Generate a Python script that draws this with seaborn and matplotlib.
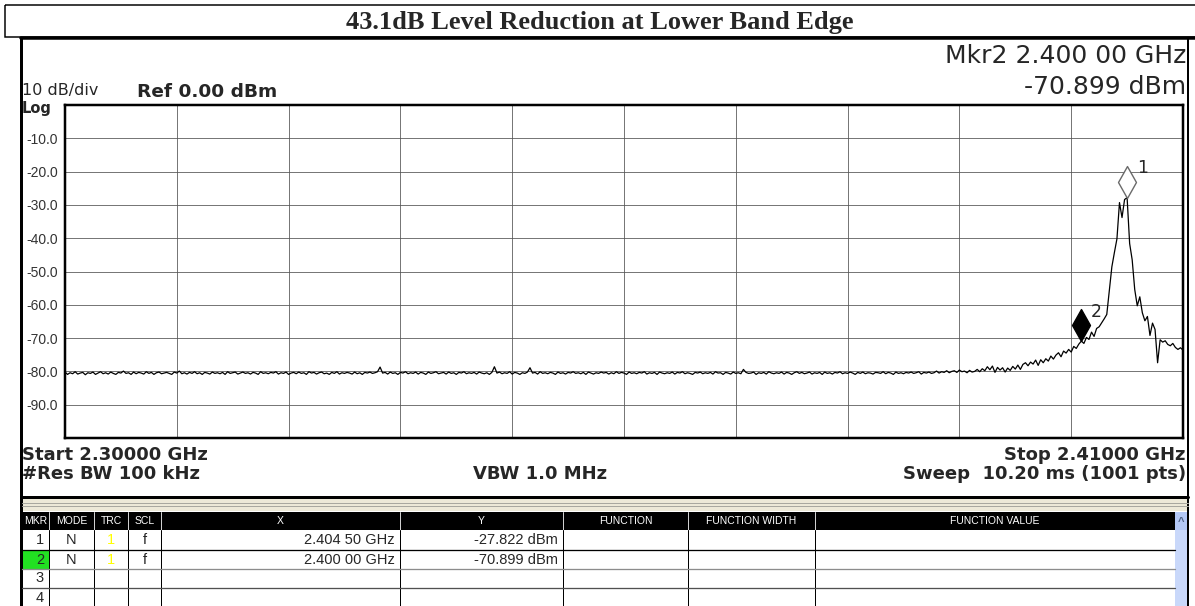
import matplotlib
matplotlib.use("Agg")
import matplotlib.pyplot as plt
import numpy as np
import pandas as pd
import seaborn as sns
from matplotlib.path import Path
from matplotlib.patches import Rectangle

# sweep settings (GHz) - trace every 0.25 MHz
start_ghz = 2.300
stop_ghz = 2.410
step_ghz = 0.00025

# noise floor 2.3000 - 2.38725 GHz
floor_dbm = [
    -80.2, -80.9, -80.4, -80.7, -80.1, -80.8, -80.5, -80.3, -81.0, -80.4,
    -80.6, -80.2, -80.9, -80.5, -80.1, -80.7, -80.4, -80.8, -80.2, -80.6,
    -80.9, -80.3, -80.5, -79.9, -80.6, -80.4, -80.9, -80.2, -80.7, -80.3,
    -80.5, -80.8, -80.1, -80.6, -80.3, -80.9, -80.4, -80.2, -80.7, -80.5,
    -80.3, -80.6, -80.9, -80.2, -80.5, -79.9, -80.7, -80.4, -80.8, -80.3,
    -80.6, -80.1, -80.7, -80.4, -80.9, -80.3, -80.5, -80.8, -80.2, -80.6,
    -80.4, -80.7, -80.3, -80.9, -80.1, -80.6, -80.4, -80.2, -80.8, -80.5,
    -80.2, -80.6, -80.4, -80.8, -80.3, -80.5, -80.9, -80.1, -80.6, -80.4,
    -80.7, -80.3, -80.5, -80.1, -80.8, -80.4, -80.6, -80.2, -80.9, -80.5,
    -80.3, -80.7, -80.2, -80.6, -80.4, -80.9, -80.1, -80.5, -80.3, -80.8,
    -80.4, -80.2, -80.7, -80.5, -80.9, -80.3, -80.6, -80.1, -80.8, -80.4,
    -80.6, -80.3, -80.5, -80.8, -80.2, -80.7, -80.4, -80.9, -80.3, -80.5,
    -80.2, -80.6, -80.4, -80.1, -78.7, -80.5, -80.3, -80.8, -80.2, -80.6,
    -80.4, -80.9, -80.3, -80.5, -80.1, -80.7, -80.4, -80.6, -80.2, -80.8,
    -80.3, -80.5, -80.9, -80.2, -80.6, -80.4, -80.1, -80.7, -80.5, -80.3,
    -80.8, -80.2, -80.6, -80.4, -80.9, -80.3, -80.5, -80.1, -80.7, -80.4,
    -80.6, -80.3, -80.8, -80.2, -80.5, -80.7, -80.4, -80.9, -80.3, -78.6,
    -80.5, -80.2, -80.7, -80.4, -80.6, -80.1, -80.8, -80.3, -80.5, -80.9,
    -80.4, -80.6, -80.2, -78.9, -80.5, -80.3, -80.8, -80.1, -80.6, -80.4,
    -80.7, -80.3, -80.5, -80.9, -80.2, -80.6, -80.4, -80.8, -80.3, -80.5,
    -80.1, -80.6, -80.4, -80.7, -80.3, -80.9, -80.2, -80.5, -80.8, -80.4,
    -80.6, -80.2, -80.5, -80.3, -80.8, -80.4, -80.7, -80.1, -80.6, -80.3,
    -80.5, -80.9, -80.2, -80.6, -80.4, -80.7, -80.3, -80.5, -80.1, -80.8,
    -80.4, -80.6, -80.3, -80.9, -80.2, -80.5, -80.7, -80.4, -80.6, -80.2,
    -80.8, -80.3, -80.5, -80.1, -80.7, -80.4, -80.6, -80.9, -80.3, -80.5,
    -80.2, -80.7, -80.4, -80.6, -80.3, -80.8, -80.1, -80.5, -80.4, -80.9,
    -80.3, -80.5, -80.8, -80.2, -80.6, -80.4, -80.7, -79.4, -80.3, -80.6,
    -80.5, -80.2, -80.9, -80.4, -80.6, -80.3, -80.8, -80.1, -80.5, -80.7,
    -80.4, -80.6, -80.2, -80.8, -80.3, -80.5, -80.9, -80.4, -80.1, -80.6,
    -80.3, -80.7, -80.5, -80.2, -80.8, -80.4, -80.6, -80.3, -80.9, -80.2,
    -80.6, -80.4, -80.8, -80.3, -80.5, -80.1, -80.7, -80.4, -80.6, -80.2,
    -80.5, -80.9, -80.3, -80.6, -80.2, -80.7, -80.4, -80.5, -80.8, -80.3,
    -80.4, -80.6, -80.1, -80.7, -80.3, -80.5, -80.9, -80.2, -80.6, -80.4,
    -80.7, -80.3, -80.5, -80.2, -80.6, -80.4, -80.1, -80.8, -80.3, -80.5,
    -80.2, -80.6, -80.4, -79.9, -80.5, -80.1, -80.3, -79.8, -80.4, -80.0,
]

# band edge skirt + carrier 2.3875 - 2.4100 GHz
edge_dbm = [
    -79.8, -80.3, -79.6, -80.1, -79.9, -80.4, -79.7, -80.2, -80.0, -79.4,
    -80.1, -79.2, -79.8, -78.6, -79.5, -78.4, -80.3, -78.8, -79.6, -78.9,
    -80.2, -79.0, -79.7, -78.5, -79.3, -78.1, -79.4, -77.9, -77.4, -78.3,
    -77.2, -77.8, -76.6, -78.2, -76.5, -77.4, -76.2, -76.9, -75.4, -76.3,
    -75.1, -74.4, -75.6, -73.9, -74.5, -73.4, -74.2, -72.5, -73.1, -71.8,
    -70.9, -71.6, -69.8, -70.4, -68.2, -69.5, -67.1, -66.6, -65.4, -64.2,
    -62.9, -55.8, -48.6, -44.3, -40.2, -29.3, -33.8, -28.4, -27.8, -41.6,
    -46.5, -55.4, -60.3, -57.6, -62.4, -64.8, -63.5, -69.2, -65.5, -67.4,
    -77.4, -70.5, -71.2, -70.8, -71.9, -72.3, -71.6, -72.8, -73.4, -72.9,
    -73.6,
]

mkr_ids = ["1", "2"]
mkr_freq = [2.40450, 2.40000]
mkr_dbm = [-27.822, -70.899]
mkr_x_text = ["2.404 50 GHz", "2.400 00 GHz"]
mkr_y_text = ["-27.822 dBm", "-70.899 dBm"]

y_ticks = [-10, -20, -30, -40, -50, -60, -70, -80, -90]
y_labels = ["-10.0", "-20.0", "-30.0", "-40.0", "-50.0", "-60.0", "-70.0", "-80.0", "-90.0"]

table_cols = ["MKR", "MODE", "TRC", "SCL", "X", "Y", "FUNCTION", "FUNCTION WIDTH", "FUNCTION VALUE"]

levels = floor_dbm + edge_dbm
freq = start_ghz + step_ghz * np.arange(len(levels))
df = pd.DataFrame({"freq": freq, "level": levels})

sns.set_style("white")
plt.rcParams["font.family"] = ["Liberation Sans", "DejaVu Sans"]
SCR = "DejaVu Sans"  # wide analyzer screen font

W, H = 1195, 606
fig = plt.figure(figsize=(W / 100, H / 100), dpi=100)
PX = 0.72  # points per pixel

# full-figure canvas in pixel coords for the screen furniture
cv = fig.add_axes([0, 0, 1, 1], zorder=0)
cv.set_xlim(0, W)
cv.set_ylim(H, 0)
cv.axis("off")

# title box
cv.add_patch(Rectangle((5, 5), W, 32, fill=False, lw=1.5 * PX, ec="black"))
cv.text(600, 22, "43.1dB Level Reduction at Lower Band Edge", ha="center", va="center",
        fontsize=19, fontweight="bold", family="Liberation Serif")

# screenshot frame
cv.plot([21, W], [38, 38], color="black", lw=3.5 * PX)
cv.plot([21, 21], [38, H], color="black", lw=3 * PX)
cv.plot([1188, 1188], [38, H], color="black", lw=2 * PX)

# header text
cv.text(22, 95, "10 dB/div", ha="left", va="baseline", fontsize=11.5, family=SCR)
cv.text(22, 113, "Log", ha="left", va="baseline", fontsize=10.5, fontweight="bold", family=SCR)
cv.text(137, 97, "Ref 0.00 dBm", ha="left", va="baseline", fontsize=13.3, fontweight="bold",
        family=SCR)
cv.text(1186, 56, "Mkr2 2.400 00 GHz", ha="right", va="center", fontsize=18, family=SCR)
cv.text(1186, 87, "-70.899 dBm", ha="right", va="center", fontsize=18, family=SCR)

# footer text
cv.text(22, 455, "Start 2.30000 GHz", ha="left", va="center", fontsize=13, fontweight="bold",
        family=SCR)
cv.text(1186, 455, "Stop 2.41000 GHz", ha="right", va="center", fontsize=13, fontweight="bold",
        family=SCR)
cv.text(22, 474, "#Res BW 100 kHz", ha="left", va="center", fontsize=13, fontweight="bold",
        family=SCR)
cv.text(540, 474, "VBW 1.0 MHz", ha="center", va="center", fontsize=13, fontweight="bold",
        family=SCR)
cv.text(1186, 474, "Sweep  10.20 ms (1001 pts)", ha="right", va="center", fontsize=13,
        fontweight="bold", family=SCR)

# separator between trace and marker table
cv.plot([21, 1188], [497, 497], color="black", lw=3 * PX)
cv.add_patch(Rectangle((22, 499), 1166, 12, color="#ece9d8", lw=0))
cv.plot([22, 1188], [503, 503], color="#a8a8a0", lw=1 * PX)
cv.plot([22, 1188], [506, 506], color="#a8a8a0", lw=1 * PX)

# marker table
col_edges = [22, 49, 94, 128, 161, 400, 563, 688, 815, 1175]
row_edges = [512, 530, 550, 569, 588, 607]
cv.add_patch(Rectangle((col_edges[0], row_edges[0]), col_edges[-1] - col_edges[0],
                       row_edges[1] - row_edges[0], color="black", lw=0))
for i, name in enumerate(table_cols):
    cx = (col_edges[i] + col_edges[i + 1]) / 2
    cv.text(cx, 521, name, ha="center", va="center", color="white", fontsize=7.5)
for x in col_edges[1:-1]:
    cv.plot([x, x], [row_edges[0], row_edges[1]], color="#d0d0d0", lw=1 * PX)
    cv.plot([x, x], [row_edges[1], H], color="black", lw=1 * PX)
cv.add_patch(Rectangle((col_edges[0], row_edges[2] + 1), col_edges[1] - col_edges[0],
                       row_edges[3] - row_edges[2] - 1, color="#22e022", lw=0))
cv.plot([22, 1175], [550, 550], color="black", lw=1.3 * PX)
cv.plot([22, 1175], [569, 569], color="#8c8c8c", lw=1.3 * PX)
cv.plot([22, 1175], [588, 588], color="#505050", lw=1.3 * PX)

for r in range(4):
    cy = (row_edges[r + 1] + row_edges[r + 2]) / 2
    cv.text(col_edges[1] - 5, cy, str(r + 1), ha="right", va="center", fontsize=10.5)
for r in range(len(mkr_ids)):
    cy = (row_edges[r + 1] + row_edges[r + 2]) / 2
    cv.text((col_edges[1] + col_edges[2]) / 2, cy, "N", ha="center", va="center", fontsize=10.5)
    cv.text((col_edges[2] + col_edges[3]) / 2, cy, "1", ha="center", va="center", fontsize=10.5,
            color="#ffff00")
    cv.text((col_edges[3] + col_edges[4]) / 2, cy, "f", ha="center", va="center", fontsize=10.5)
    cv.text(col_edges[5] - 5, cy, mkr_x_text[r], ha="right", va="center", fontsize=10.5)
    cv.text(col_edges[6] - 5, cy, mkr_y_text[r], ha="right", va="center", fontsize=10.5)

# scroll bar
cv.add_patch(Rectangle((1175, 512), 13, H - 512, color="#c9d8fa", lw=0))
cv.add_patch(Rectangle((1175, 512), 13, 18, color="#b3c8f6", lw=0))
cv.text(1181.5, 522, "^", ha="center", va="center", fontsize=8, color="#4d6185",
        fontweight="bold")

# trace window
ax = fig.add_axes([65 / W, 1 - 438 / H, (1183 - 65) / W, (438 - 105) / H], zorder=2)
ax.set_facecolor("white")
sns.lineplot(data=df, x="freq", y="level", color="black", linewidth=0.9, estimator=None, ax=ax)

# marker diamonds, bottom tip on the trace point
diamond = Path([(0, 0), (9, 16), (0, 32), (-9, 16), (0, 0)],
               [Path.MOVETO, Path.LINETO, Path.LINETO, Path.LINETO, Path.CLOSEPOLY])
ax.plot(mkr_freq[0], mkr_dbm[0], marker=diamond, markersize=46, markerfacecolor="white",
        markeredgecolor="#6a6a6a", markeredgewidth=1.0, linestyle="none")
ax.plot(mkr_freq[1], mkr_dbm[1], marker=diamond, markersize=46, markerfacecolor="black",
        markeredgecolor="black", markeredgewidth=1.0, linestyle="none")
for mid, mf, md in zip(mkr_ids, mkr_freq, mkr_dbm):
    ax.annotate(mid, (mf, md), xytext=(11, 21), textcoords="offset points", fontsize=12.5,
                ha="center", va="center", family=SCR)

ax.set_xlim(start_ghz, stop_ghz)
ax.set_ylim(-100, 0)
ax.set_xticks(start_ghz + 0.011 * np.arange(11))
ax.set_xticklabels([])
ax.set_yticks(y_ticks)
ax.set_yticklabels(y_labels, fontsize=10, color="#333333")
ax.tick_params(length=0, pad=5)
ax.grid(True, color="#555555", linewidth=0.8 * PX)
ax.set_xlabel("")
ax.set_ylabel("")
for s in ax.spines.values():
    s.set_visible(True)
    s.set_color("black")
    s.set_linewidth(2.5 * PX)

fig.savefig("out.png", dpi=100)
